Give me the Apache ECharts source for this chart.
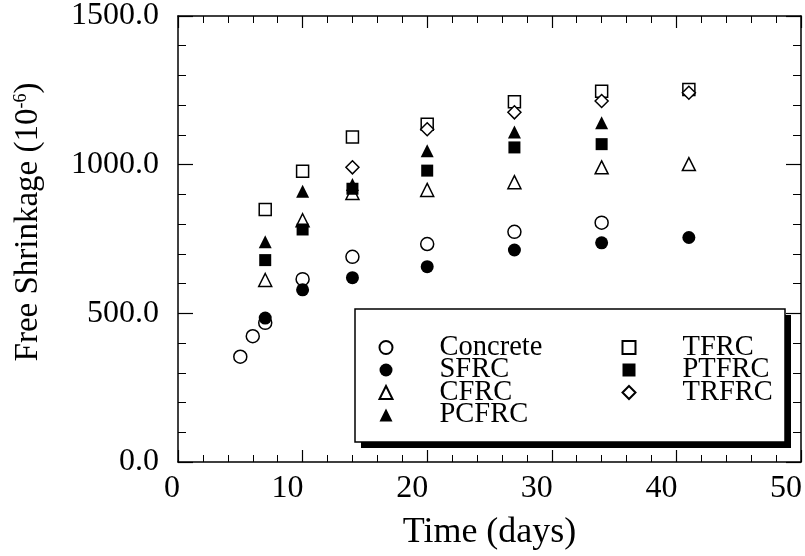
<!DOCTYPE html>
<html>
<head>
<meta charset="utf-8">
<script src="https://cdn.jsdelivr.net/npm/echarts@6/dist/echarts.min.js"></script>
<style>
html, body { margin: 0; padding: 0; background: #fff; }
#chart { width: 805px; height: 556px; }
</style>
</head>
<body>
<div id="chart"></div>
<script>
// days
var daysConcrete = [5, 6, 7, 10, 14, 20, 27, 34];
var valConcrete  = [354, 423, 468, 615, 690, 733, 774, 805];
var daysSFRC  = [7, 10, 14, 20, 27, 34, 41];
var valSFRC   = [484, 579, 620, 657, 713, 737, 755];
var daysCFRC  = [7, 10, 14, 20, 27, 34, 41];
var valCFRC   = [612, 813, 905, 915, 941, 991, 1002];
var daysPCFRC = [7, 10, 14, 20, 27, 34];
var valPCFRC  = [741, 911, 933, 1047, 1110, 1141];
var daysTFRC  = [7, 10, 14, 20, 27, 34, 41];
var valTFRC   = [849, 978, 1093, 1136, 1212, 1247, 1253];
var daysPTFRC = [7, 10, 14, 20, 27, 34];
var valPTFRC  = [679, 782, 919, 980, 1058, 1069];
var daysTRFRC = [14, 20, 27, 34, 41];
var valTRFRC  = [991, 1119, 1176, 1214, 1242];

var legendLeft  = ["Concrete", "SFRC", "CFRC", "PCFRC"];
var legendRight = ["TFRC", "PTFRC", "TRFRC"];

var FONT = "Liberation Serif";

function pairs(xs, ys)
{
	var out = [];
	for (var i = 0; i < xs.length; i++) out.push([xs[i], ys[i]]);
	return out;
}

function scatter(name, xs, ys, symbol, size, filled)
{
	return {
		name: name,
		type: "scatter",
		symbol: symbol,
		symbolSize: size,
		data: pairs(xs, ys),
		itemStyle: {
			color: filled ? "#000" : "#fff",
			borderColor: "#000",
			borderWidth: filled ? 0 : 1.5,
			opacity: 1
		},
		emphasis: { disabled: true }
	};
}

var axisLine = { show: true, onZero: false, lineStyle: { color: "#000", width: 1.5 } };

function xAx(pos, labels)
{
	return {
		type: "value", position: pos, min: 0, max: 50, interval: 10,
		axisLine: axisLine,
		axisTick: { show: true, inside: true, length: 12, lineStyle: { color: "#000", width: 1.2 } },
		minorTick: { show: true, splitNumber: 5, length: 7, lineStyle: { color: "#000", width: 1 } },
		splitLine: { show: false },
		axisLabel: labels ? {
			show: true, margin: 11, color: "#000", fontFamily: FONT, fontSize: 32,
			formatter: function(v){ return v === 0 ? "{a|0}" : "{b|" + v + "}"; },
			rich: {
				a: { fontFamily: FONT, fontSize: 32, color: "#000", padding: [0, 12, 0, 0] },
				b: { fontFamily: FONT, fontSize: 32, color: "#000", padding: [0, 30, 0, 0] }
			}
		} : { show: false },
		name: labels ? "Time (days)" : "",
		nameLocation: "middle",
		nameGap: 53,
		nameTextStyle: { fontFamily: FONT, fontSize: 36, color: "#000" }
	};
}

function yAx(pos, labels)
{
	return {
		type: "value", position: pos, min: 0, max: 1500, interval: 500,
		axisLine: axisLine,
		axisTick: { show: true, inside: true, length: 15, lineStyle: { color: "#000", width: 1.2 } },
		minorTick: { show: true, splitNumber: 5, length: 8, lineStyle: { color: "#000", width: 1 } },
		splitLine: { show: false },
		axisLabel: labels ? {
			show: true, margin: 19, color: "#000", fontFamily: FONT, fontSize: 32,
			formatter: function(v){ return v.toFixed(1); }
		} : { show: false },
		name: labels ? "{t|Free Shrinkage (10}{s|-6}{t|)}" : "",
		nameLocation: "middle",
		nameGap: 133,
		nameTextStyle: {
			padding: [0, 0, 0, 34],
			rich: {
				t: { fontFamily: FONT, fontSize: 33, color: "#000" },
				s: { fontFamily: FONT, fontSize: 18, color: "#000", verticalAlign: "top", padding: [0, 0, 14, 0] }
			}
		}
	};
}

function legend(names, left)
{
	return {
		data: names,
		orient: "vertical",
		left: left,
		top: 333,
		itemWidth: 13,
		itemHeight: 13,
		itemGap: -6.5,
		padding: 0,
		selectedMode: false,
		textStyle: { fontFamily: FONT, fontSize: 28.5, color: "#000", lineHeight: 22.5, padding: [0, 0, 0, 42] }
	};
}

var chart = echarts.init(document.getElementById("chart"), null, { renderer: "canvas" });

chart.setOption({
	backgroundColor: "#fff",
	animation: false,
	grid: { left: 178, right: 4, top: 16, bottom: 91 },
	xAxis: [xAx("bottom", true), xAx("top", false)],
	yAxis: [yAx("left", true), yAx("right", false)],
	legend: [legend(legendLeft, 378.5), legend(legendRight, 621.5)],
	graphic: [{
		type: "rect",
		z: 3,
		shape: { x: 361, y: 315, width: 430, height: 133 },
		style: { fill: "#000" }
	}, {
		type: "rect",
		z: 3,
		shape: { x: 355, y: 309, width: 430, height: 133 },
		style: { fill: "#fff", stroke: "#000", lineWidth: 1.5 }
	}],
	series: [
		scatter("Concrete", daysConcrete, valConcrete, "circle", 13, false),
		scatter("SFRC", daysSFRC, valSFRC, "circle", 13, true),
		scatter("CFRC", daysCFRC, valCFRC, "triangle", 13, false),
		scatter("PCFRC", daysPCFRC, valPCFRC, "triangle", 13, true),
		scatter("TFRC", daysTFRC, valTFRC, "rect", 12, false),
		scatter("PTFRC", daysPTFRC, valPTFRC, "rect", 12, true),
		scatter("TRFRC", daysTRFRC, valTRFRC, "diamond", 13, false)
	]
});
</script>
</body>
</html>
